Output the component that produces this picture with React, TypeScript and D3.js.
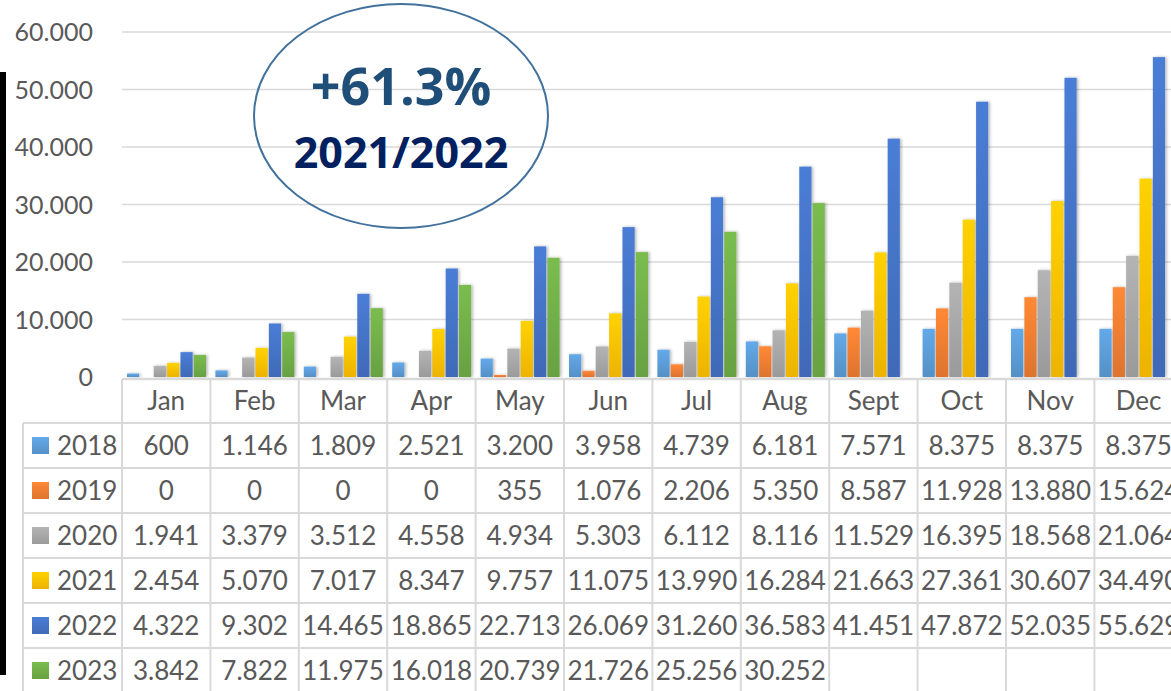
import React from "react";
import * as d3 from "d3";

const months = ["Jan", "Feb", "Mar", "Apr", "May", "Jun", "Jul", "Aug", "Sept", "Oct", "Nov", "Dec"];
const seriesNames = ["2018", "2019", "2020", "2021", "2022", "2023"];
const v2018 = [600, 1146, 1809, 2521, 3200, 3958, 4739, 6181, 7571, 8375, 8375, 8375];
const v2019 = [0, 0, 0, 0, 355, 1076, 2206, 5350, 8587, 11928, 13880, 15624];
const v2020 = [1941, 3379, 3512, 4558, 4934, 5303, 6112, 8116, 11529, 16395, 18568, 21064];
const v2021 = [2454, 5070, 7017, 8347, 9757, 11075, 13990, 16284, 21663, 27361, 30607, 34490];
const v2022 = [4322, 9302, 14465, 18865, 22713, 26069, 31260, 36583, 41451, 47872, 52035, 55629];
const v2023 = [3842, 7822, 11975, 16018, 20739, 21726, 25256, 30252];
const yTicks = [0, 10000, 20000, 30000, 40000, 50000, 60000];
const annotationMain = "+61.3%";
const annotationSub = "2021/2022";

const seriesValues = [v2018, v2019, v2020, v2021, v2022, v2023];
const colors = ["#5B9BD5", "#ED7D31", "#A5A5A5", "#FFC000", "#4472C4", "#70AD47"];

const locale = d3.formatLocale({ decimal: ",", thousands: ".", grouping: [3], currency: ["", ""] });
const fmt = locale.format(",d");
const yFmt = locale.format(",.0f");

export default function App() {
  const W = 1171, H = 691;
  const left = 122, colW = 88.4;
  const x = d3.scaleBand<string>().domain(months).range([left, left + colW * 12]).padding(0);
  const xi = d3.scaleBand<string>().domain(seriesNames).range([5, 84]).paddingInner(0.09).paddingOuter(0);
  const y = d3.scaleLinear().domain([0, 60000]).range([377, 32]);

  const headerTop = 379, headerBot = 423, rowH = 45;
  const tableLeft = 23;
  const font = "Lato, 'Open Sans', sans-serif";
  const textColor = "#595959";
  const lineColor = "#D9D9D9";

  return (
    <svg width={W} height={H} style={{ position: "fixed", left: 0, top: 0, background: "#fff" }}>
      <defs>
        {colors.map((c, i) => (
          <linearGradient key={i} id={`g${i}`} x1="0" y1="0" x2="0" y2="1">
            <stop offset="0%" stopColor={d3.color(c)!.brighter(0.25).toString()} />
            <stop offset="100%" stopColor={d3.color(c)!.darker(0.2).toString()} />
          </linearGradient>
        ))}
        <filter id="sh" x="-50%" y="-10%" width="200%" height="120%">
          <feDropShadow dx="1.5" dy="0" stdDeviation="1.5" floodColor="#000" floodOpacity="0.3" />
        </filter>
      </defs>
      <rect x={0} y={72} width={6} height={603} fill="#000" />
      {yTicks.map((t) => (
        <g key={t}>
          {t > 0 && <line x1={left} x2={W} y1={y(t)} y2={y(t)} stroke={lineColor} strokeWidth={1.5} />}
          <text x={93} y={y(t)} dy="0.36em" textAnchor="end" fontFamily={font} fontSize={25} fill={textColor}>
            {yFmt(t)}
          </text>
        </g>
      ))}
      <ellipse cx={401} cy={116} rx={147} ry={112} fill="none" stroke="#41719C" strokeWidth={2} />
      <text x={401} y={105} textAnchor="middle" fontFamily="'Open Sans', sans-serif" fontWeight={700} fontSize={52} fill="#1F4E79">
        {annotationMain}
      </text>
      <text x={401} y={168} textAnchor="middle" fontFamily="'Open Sans', sans-serif" fontWeight={700} fontSize={43} fill="#002060">
        {annotationSub}
      </text>
      {seriesValues.map((vals, si) => (
        <g key={si} filter="url(#sh)">
          {vals.map((v, mi) =>
            v > 0 ? (
              <rect
                key={mi}
                x={x(months[mi])! + xi(seriesNames[si])!}
                y={y(v)}
                width={xi.bandwidth()}
                height={y(0) - y(v)}
                fill={`url(#g${si})`}
              />
            ) : null
          )}
        </g>
      ))}
      <line x1={left} x2={W} y1={headerTop} y2={headerTop} stroke={lineColor} strokeWidth={2.5} />
      {seriesNames.map((_, i) => (
        <line key={i} x1={tableLeft} x2={W} y1={headerBot + i * rowH} y2={headerBot + i * rowH} stroke={lineColor} strokeWidth={2} />
      ))}
      <line x1={tableLeft} x2={tableLeft} y1={headerBot} y2={H} stroke={lineColor} strokeWidth={2} />
      {months.map((m) => (
        <line key={m} x1={x(m)!} x2={x(m)!} y1={headerTop} y2={H} stroke={lineColor} strokeWidth={2} />
      ))}
      {months.map((m) => (
        <text key={m} x={x(m)! + colW / 2} y={410} textAnchor="middle" fontFamily={font} fontSize={26} fill={textColor}>
          {m}
        </text>
      ))}
      {seriesNames.map((s, si) => {
        const cy = headerBot + si * rowH + rowH / 2;
        return (
          <g key={s}>
            <rect x={32} y={cy - 8.5} width={17} height={17} fill={`url(#g${si})`} />
            <text x={57} y={cy + 9.5} fontFamily={font} fontSize={26} fill={textColor}>
              {s}
            </text>
            {seriesValues[si].map((v, mi) => (
              <text key={mi} x={x(months[mi])! + colW / 2} y={cy + 9.5} textAnchor="middle" fontFamily={font} fontSize={26} fill={textColor}>
                {fmt(v)}
              </text>
            ))}
          </g>
        );
      })}
    </svg>
  );
}
